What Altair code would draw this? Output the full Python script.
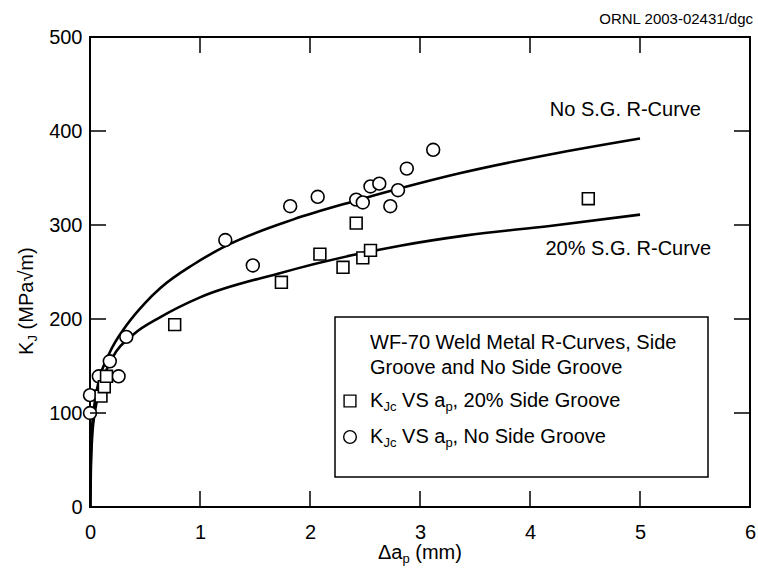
import altair as alt
import pandas as pd

FONT = "Liberation Sans"
SP = 5.6  # width of a space at 20px

# ---------------- data ----------------
# No side groove K_Jc points (circles)
ngs_x = [0.0, 0.0, 0.08, 0.18, 0.26, 0.33, 1.23, 1.48, 1.82, 2.07, 2.42, 2.48, 2.55, 2.63, 2.73, 2.80, 2.88, 3.12]
ngs_y = [100, 119, 139, 155, 139, 181, 284, 257, 320, 330, 327, 324, 341, 344, 320, 337, 360, 380]
# 20% side groove K_Jc points (squares)
sg_x = [0.10, 0.13, 0.15, 0.77, 1.74, 2.09, 2.30, 2.42, 2.48, 2.55, 4.53]
sg_y = [118, 128, 139, 194, 239, 269, 255, 302, 265, 273, 328]
# R-curves
rc_ngs_x = [0.003, 0.006, 0.015, 0.035, 0.08, 0.17, 0.33, 0.50, 0.64, 0.94, 1.24, 1.85, 2.39, 2.82, 3.36, 4.18, 5.0]
rc_ngs_y = [0, 40, 76, 104, 134, 162, 193, 217, 233, 258, 278, 306, 325, 339, 355, 375, 392]
rc_sg_x = [0.003, 0.008, 0.02, 0.05, 0.10, 0.20, 0.40, 0.64, 1.0, 1.70, 2.39, 2.82, 3.42, 4.18, 5.0]
rc_sg_y = [0, 40, 75, 105, 130, 158, 184, 202, 223, 248, 268, 278, 289, 299, 311]

x_ticks = [0, 1, 2, 3, 4, 5, 6]
y_ticks = [0, 100, 200, 300, 400, 500]
inner_x_ticks = [1, 2, 3, 4, 5]
inner_y_ticks = [100, 200, 300, 400]

# ---------------- tables ----------------
curves = pd.concat([
    pd.DataFrame({"x": rc_ngs_x, "y": rc_ngs_y, "series": "No S.G."}),
    pd.DataFrame({"x": rc_sg_x, "y": rc_sg_y, "series": "20% S.G."}),
])
circ = pd.DataFrame({"x": ngs_x, "y": ngs_y})
sq = pd.DataFrame({"x": sg_x, "y": sg_y})
xt = pd.DataFrame({"x": inner_x_ticks})
yt = pd.DataFrame({"y": inner_y_ticks})
one = pd.DataFrame({"a": [0]})

W, H = 660, 470

xs = alt.Scale(domain=[0, 6], nice=False, zero=False)
ys = alt.Scale(domain=[0, 500], nice=False, zero=False)
xaxis = alt.Axis(values=x_ticks, ticks=False, tickSize=0, domain=False, grid=False,
                 labelFontSize=20, labelFont=FONT, labelColor="black", labelPadding=15,
                 labelFlush=False, title=None, format="d")
yaxis = alt.Axis(values=y_ticks, ticks=False, tickSize=0, domain=False, grid=False,
                 labelFontSize=20, labelFont=FONT, labelColor="black", labelPadding=8,
                 labelFlush=False, title=None, format="d")
X = alt.X("x:Q", scale=xs, axis=xaxis, title=None)
Y = alt.Y("y:Q", scale=ys, axis=yaxis, title=None)

lines = alt.Chart(curves).mark_line(color="black", strokeWidth=2.6, interpolate="monotone").encode(
    x=X, y=Y, detail="series:N", order="x:Q")

circles = alt.Chart(circ).mark_point(shape="circle", size=165, fill="white", stroke="black",
                                     strokeWidth=1.6, opacity=1, fillOpacity=1).encode(x=X, y=Y)
squares = alt.Chart(sq).mark_point(shape="square", size=140, fill="white", stroke="black",
                                   strokeWidth=1.6, opacity=1, fillOpacity=1).encode(x=X, y=Y)

tick_bottom = alt.Chart(xt).mark_rule(color="black", strokeWidth=1.5).encode(
    x=X, y=alt.value(H), y2=alt.value(H - 16))
tick_top = alt.Chart(xt).mark_rule(color="black", strokeWidth=1.5).encode(
    x=X, y=alt.value(0), y2=alt.value(16))
tick_left = alt.Chart(yt).mark_rule(color="black", strokeWidth=1.5).encode(
    y=Y, x=alt.value(0), x2=alt.value(16))
tick_right = alt.Chart(yt).mark_rule(color="black", strokeWidth=1.5).encode(
    y=Y, x=alt.value(W), x2=alt.value(W - 16))


def txt(s, x, y, size=20, align="left", angle=0, baseline="middle"):
    return alt.Chart(one).mark_text(text=s, align=align, baseline=baseline, fontSize=size,
                                    font=FONT, color="black", angle=angle).encode(
        x=alt.value(x), y=alt.value(y))


def dtxt(s, x, y, size=20):
    d = pd.DataFrame({"x": [x], "y": [y]})
    return alt.Chart(d).mark_text(text=s, align="left", baseline="middle", fontSize=size,
                                  font=FONT, color="black").encode(x=X, y=Y)


curve_labels = [dtxt("No S.G. R-Curve", 4.18, 422), dtxt("20% S.G. R-Curve", 4.14, 275)]

# legend panel
box = alt.Chart(one).mark_rect(fill="white", stroke="black", strokeWidth=1.5).encode(
    x=alt.value(245), x2=alt.value(618), y=alt.value(280), y2=alt.value(440))
leg_sq = alt.Chart(one).mark_point(shape="square", size=140, fill="white", stroke="black",
                                   strokeWidth=1.4, opacity=1).encode(x=alt.value(260), y=alt.value(364))
leg_ci = alt.Chart(one).mark_point(shape="circle", size=160, fill="white", stroke="black",
                                   strokeWidth=1.4, opacity=1).encode(x=alt.value(260), y=alt.value(400))


def kjc_row(rest, y):
    return [
        txt("K", 280, y),
        txt("Jc", 293.5, y + 6, size=13),
        txt("VS a", 306.5 + SP, y),
        txt("p", 355.5, y + 6, size=13),
        txt(rest, 362.5, y),
    ]


legend_texts = [
    txt("WF-70 Weld Metal R-Curves, Side", 280, 306),
    txt("Groove and No Side Groove", 280, 331),
] + kjc_row(", 20% Side Groove", 364) + kjc_row(", No Side Groove", 400)

# axis titles with subscripts
x_title = [txt("\u0394a", 288, 516), txt("p", 312.5, 522, size=13), txt("(mm)", 319.7 + SP, 516)]
y0 = 318
y_title = [
    txt("K", -63, y0, angle=270),
    txt("J", -57, y0 - 13.5, size=13, angle=270),
    txt("(MPa\u221am)", -63, y0 - 20 - SP, angle=270),
]
ornl = [txt("ORNL 2003-02431/dgc", 663, -18, size=15, align="right")]

chart = alt.layer(
    lines, circles, squares, tick_bottom, tick_top, tick_left, tick_right,
    *curve_labels, box, leg_sq, leg_ci, *legend_texts, *x_title, *y_title, *ornl
).properties(
    width=W, height=H,
    autosize=alt.AutoSizeParams(type="none"),
    padding={"left": 90, "top": 37, "right": 8, "bottom": 67},
    background="white",
).configure_view(stroke="black", strokeWidth=2)

chart.save("out.html", embed_options={"renderer": "svg", "actions": False})
